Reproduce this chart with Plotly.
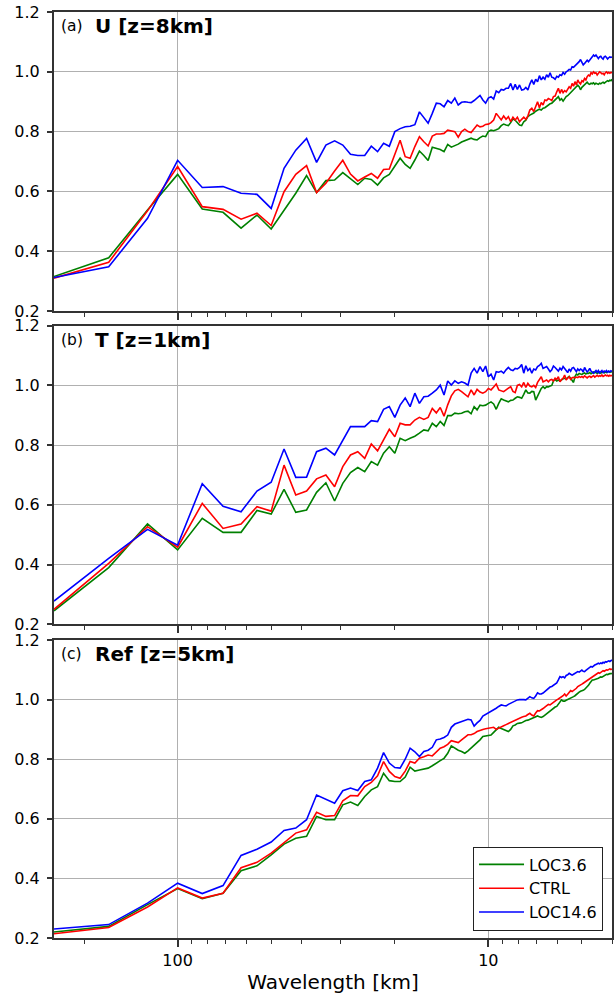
import math
import plotly.graph_objects as go

# Spectral grid: wavenumbers 2..125 over a 500 km domain
DOMAIN_KM = 500.0
wavenumber = list(range(2, 126))
wavelength_km = [DOMAIN_KM / n for n in wavenumber]

# ---- (a) U at z = 8 km ----
u_loc36 = [
    0.315, 0.378, 0.538, 0.657, 0.541, 0.53, 0.477, 0.521, 0.474, 0.538,
    0.594, 0.653, 0.596, 0.636, 0.638, 0.663, 0.643, 0.623, 0.644, 0.64,
    0.621, 0.645, 0.657,
    0.683, 0.711, 0.69, 0.677, 0.705, 0.735, 0.72, 0.703, 0.748, 0.745,
    0.74, 0.733, 0.757, 0.748, 0.752, 0.758, 0.765, 0.77, 0.775, 0.778,
    0.774, 0.772, 0.78, 0.785, 0.783, 0.80, 0.805, 0.803, 0.806, 0.81,
    0.82, 0.825, 0.822, 0.82, 0.83, 0.843, 0.838, 0.83, 0.822, 0.82,
    0.833, 0.838, 0.85, 0.855, 0.858, 0.862, 0.868, 0.872, 0.875, 0.872,
    0.878, 0.88, 0.885, 0.888, 0.893, 0.895, 0.90, 0.905, 0.912, 0.917,
    0.905, 0.91, 0.902, 0.91, 0.917, 0.92, 0.925, 0.93, 0.935, 0.94,
    0.945, 0.95, 0.955, 0.95, 0.94, 0.948, 0.952, 0.958, 0.962, 0.965,
    0.96, 0.958, 0.962, 0.96, 0.963, 0.958, 0.962, 0.96, 0.958, 0.962,
    0.96, 0.963, 0.965, 0.962, 0.966, 0.968, 0.97, 0.968, 0.972, 0.97,
    0.975,
]
u_ctrl = [
    0.31, 0.363, 0.535, 0.683, 0.549, 0.54, 0.507, 0.527, 0.486, 0.599,
    0.657, 0.686, 0.596, 0.627, 0.668, 0.704, 0.658, 0.635, 0.648, 0.66,
    0.644, 0.673, 0.675,
    0.727, 0.771, 0.716, 0.711, 0.75, 0.783, 0.766, 0.752, 0.785, 0.792,
    0.792, 0.794, 0.805, 0.803, 0.80, 0.781, 0.80, 0.808, 0.80, 0.797,
    0.808, 0.822, 0.816, 0.818, 0.824, 0.825, 0.83, 0.839, 0.861, 0.848,
    0.839, 0.852, 0.841, 0.85, 0.833, 0.848, 0.839, 0.848, 0.833, 0.841,
    0.848, 0.841, 0.852, 0.872, 0.878, 0.867, 0.886, 0.90, 0.88, 0.897,
    0.889, 0.906, 0.904, 0.911, 0.908, 0.904, 0.917, 0.919, 0.933, 0.945,
    0.928, 0.941, 0.93, 0.937, 0.933, 0.941, 0.95, 0.945, 0.961, 0.952,
    0.967, 0.956, 0.973, 0.964, 0.959, 0.97, 0.967, 0.978, 0.973, 0.984,
    0.989, 0.986, 0.997, 0.993, 1.0, 0.995, 0.997, 0.989, 0.993, 1.0,
    0.997, 0.993, 0.995, 0.99, 0.997, 1.0, 0.995, 0.998, 0.995, 0.998,
    0.997,
]
u_loc146 = [
    0.312, 0.348, 0.51, 0.704, 0.613, 0.616, 0.594, 0.59, 0.543, 0.677,
    0.738, 0.777, 0.697, 0.755, 0.769, 0.755, 0.724, 0.72, 0.72, 0.751,
    0.733, 0.761, 0.751,
    0.80, 0.81, 0.816, 0.818, 0.823, 0.866, 0.848, 0.828, 0.861, 0.895,
    0.893, 0.883, 0.904, 0.895, 0.912, 0.889, 0.898, 0.90, 0.898, 0.897,
    0.904, 0.912, 0.921, 0.906, 0.895, 0.912, 0.917, 0.909, 0.936, 0.93,
    0.941, 0.939, 0.945, 0.945, 0.961, 0.939, 0.958, 0.941, 0.956, 0.939,
    0.941, 0.948, 0.939, 0.959, 0.973, 0.958, 0.975, 0.967, 0.987, 0.973,
    0.982, 0.975, 0.99, 0.982, 0.997, 0.982, 0.98, 0.975, 0.985, 0.982,
    0.99, 0.988, 0.998, 0.992, 1.0, 1.003, 1.008, 1.006, 1.017, 1.015,
    1.019, 1.023, 1.028, 1.034, 1.041, 1.034, 1.023, 1.028, 1.034, 1.039,
    1.034, 1.041, 1.046, 1.05, 1.056, 1.052, 1.056, 1.05, 1.044, 1.05,
    1.052, 1.046, 1.042, 1.05, 1.052, 1.048, 1.043, 1.047, 1.05, 1.048,
    1.05,
]

# ---- (b) T at z = 1 km ----
t_loc36 = [
    0.245, 0.39, 0.536, 0.449, 0.555, 0.508, 0.508, 0.581, 0.569, 0.652,
    0.575, 0.583, 0.642, 0.674, 0.613, 0.672, 0.708, 0.725, 0.711, 0.745,
    0.733, 0.773, 0.795,
    0.773, 0.823, 0.815, 0.823, 0.83, 0.84, 0.851, 0.848, 0.873, 0.862,
    0.879, 0.866, 0.899, 0.899, 0.907, 0.905, 0.907, 0.912, 0.914, 0.905,
    0.929, 0.918, 0.934, 0.932, 0.934, 0.94, 0.945, 0.938, 0.92, 0.94,
    0.955, 0.951, 0.948, 0.945, 0.95, 0.951, 0.957, 0.962, 0.96, 0.957,
    0.97, 0.985, 0.975, 0.974, 0.98, 0.979, 0.951, 0.965, 0.979, 0.99,
    0.996, 0.99, 0.996, 0.995, 0.998, 1.0, 1.015, 1.02, 1.015, 1.018,
    1.015, 1.02, 1.022, 1.024, 1.022, 1.026, 1.03, 1.024, 1.015, 1.01,
    1.03, 1.038, 1.035, 1.04, 1.038, 1.037, 1.04, 1.042, 1.038, 1.041,
    1.04, 1.043, 1.039, 1.041, 1.045, 1.042, 1.044, 1.04, 1.042, 1.045,
    1.041, 1.043, 1.046, 1.042, 1.045, 1.043, 1.045, 1.047, 1.044, 1.046,
    1.045,
]
t_ctrl = [
    0.25, 0.404, 0.527, 0.458, 0.605, 0.521, 0.536, 0.594, 0.579, 0.733,
    0.633, 0.646, 0.687, 0.70, 0.661, 0.728, 0.767, 0.778, 0.756, 0.804,
    0.781, 0.82, 0.853,
    0.828, 0.873, 0.868, 0.868, 0.884, 0.893, 0.886, 0.893, 0.923, 0.908,
    0.926, 0.897, 0.935, 0.965, 0.982, 0.987, 0.979, 0.97, 0.962, 0.985,
    0.968, 0.987, 0.978, 0.974, 0.979, 0.99, 0.985, 0.995, 1.005, 0.985,
    0.982, 0.979, 0.985, 0.99, 0.996, 0.98, 0.976, 1.0, 1.003, 0.995,
    1.01, 0.993, 1.007, 0.998, 0.995, 1.0, 0.993, 1.01, 1.02, 1.029,
    1.012, 1.015, 1.018, 1.012, 1.018, 1.02, 1.015, 1.024, 1.02, 1.029,
    1.012, 1.02, 1.024, 1.035, 1.018, 1.024, 1.029, 1.02, 1.026, 1.027,
    1.025, 1.028, 1.026, 1.03, 1.027, 1.03, 1.026, 1.032, 1.028, 1.025,
    1.029, 1.031, 1.027, 1.03, 1.033, 1.028, 1.031, 1.034, 1.03, 1.033,
    1.031, 1.035, 1.03, 1.032, 1.035, 1.032, 1.034, 1.031, 1.034, 1.032,
    1.034,
]
t_loc146 = [
    0.278, 0.421, 0.518, 0.465, 0.671, 0.595, 0.577, 0.646, 0.676, 0.787,
    0.692, 0.693, 0.778, 0.79, 0.767, 0.817, 0.862, 0.862, 0.862, 0.882,
    0.879, 0.92, 0.929,
    0.893, 0.934, 0.958, 0.929, 0.974, 0.94, 0.962, 0.964, 0.974, 0.985,
    1.001, 0.968, 1.015, 1.001, 1.015, 1.007, 1.012, 1.008, 1.001, 1.041,
    1.057, 1.041, 1.063, 1.046, 1.065, 1.029, 1.038, 1.018, 1.046, 1.044,
    1.048, 1.041, 1.052, 1.06, 1.052, 1.05, 1.057, 1.055, 1.06, 1.07,
    1.041, 1.066, 1.05, 1.057, 1.041, 1.055, 1.052, 1.063, 1.067, 1.074,
    1.057, 1.06, 1.063, 1.055, 1.046, 1.052, 1.065, 1.06, 1.055, 1.048,
    1.058, 1.052, 1.063, 1.058, 1.05, 1.043, 1.055, 1.048, 1.058, 1.06,
    1.052, 1.046, 1.055, 1.05, 1.055, 1.052, 1.045, 1.06, 1.052, 1.045,
    1.05, 1.057, 1.048, 1.043, 1.041, 1.046, 1.05, 1.044, 1.05, 1.042,
    1.046, 1.05, 1.043, 1.048, 1.046, 1.05, 1.044, 1.048, 1.045, 1.049,
    1.047,
]

# ---- (c) Reflectivity at z = 5 km ----
ref_loc36 = [
    0.22, 0.239, 0.312, 0.366, 0.332, 0.35, 0.426, 0.442, 0.479, 0.515,
    0.535, 0.541, 0.608, 0.597, 0.597, 0.647, 0.656, 0.645, 0.675, 0.697,
    0.708, 0.753, 0.728,
    0.725, 0.725, 0.74, 0.773, 0.76, 0.764, 0.766, 0.77, 0.778, 0.788,
    0.795, 0.803, 0.82, 0.845, 0.836, 0.83, 0.826, 0.82, 0.828, 0.837,
    0.845, 0.856, 0.865, 0.876, 0.877, 0.878, 0.881, 0.89, 0.90, 0.907,
    0.903, 0.90, 0.895, 0.893, 0.90, 0.912, 0.915, 0.92, 0.921, 0.922,
    0.926, 0.93, 0.931, 0.934, 0.937, 0.94, 0.943, 0.945, 0.942, 0.94,
    0.943, 0.948, 0.952, 0.958, 0.962, 0.965, 0.97, 0.975, 0.977, 0.985,
    0.992, 0.999, 0.995, 0.995, 0.998, 1.0, 1.003, 1.005, 1.008, 1.01,
    1.013, 1.018, 1.022, 1.025, 1.028, 1.029, 1.031, 1.034, 1.038, 1.042,
    1.048, 1.055, 1.062, 1.066, 1.066, 1.067, 1.068, 1.07, 1.072, 1.074,
    1.076, 1.075, 1.078, 1.08, 1.083, 1.085, 1.084, 1.086, 1.087, 1.087,
    1.088,
]
ref_ctrl = [
    0.214, 0.235, 0.304, 0.368, 0.334, 0.35, 0.436, 0.454, 0.485, 0.521,
    0.552, 0.563, 0.622, 0.608, 0.611, 0.66, 0.678, 0.677, 0.708, 0.722,
    0.744, 0.792, 0.759,
    0.742, 0.736, 0.76, 0.792, 0.787, 0.803, 0.808, 0.814, 0.811, 0.825,
    0.837, 0.842, 0.85, 0.862, 0.86, 0.856, 0.865, 0.875, 0.882, 0.882,
    0.886, 0.893, 0.897, 0.90, 0.902, 0.904, 0.904, 0.907, 0.90, 0.905,
    0.909, 0.912, 0.916, 0.92, 0.922, 0.926, 0.93, 0.933, 0.937, 0.941,
    0.943, 0.945, 0.95, 0.954, 0.948, 0.945, 0.955, 0.963, 0.962, 0.965,
    0.97, 0.975, 0.98, 0.984, 0.982, 0.987, 0.99, 0.995, 0.999, 1.002,
    1.006, 1.008, 1.013, 1.019, 1.012, 1.018, 1.025, 1.03, 1.027, 1.03,
    1.033, 1.038, 1.044, 1.046, 1.05, 1.052, 1.055, 1.058, 1.062, 1.065,
    1.068, 1.07, 1.074, 1.077, 1.08, 1.083, 1.086, 1.089, 1.09, 1.088,
    1.092, 1.094, 1.097, 1.095, 1.098, 1.1, 1.099, 1.101, 1.103, 1.101,
    1.103,
]
ref_loc146 = [
    0.23, 0.245, 0.317, 0.384, 0.349, 0.376, 0.477, 0.498, 0.522, 0.561,
    0.569, 0.597, 0.68, 0.666, 0.652, 0.694, 0.703, 0.695, 0.725, 0.731,
    0.77, 0.822, 0.787,
    0.772, 0.77, 0.80, 0.837, 0.825, 0.809, 0.826, 0.83, 0.84, 0.865,
    0.868, 0.873, 0.881, 0.907, 0.918, 0.922, 0.926, 0.93, 0.934, 0.932,
    0.911, 0.922, 0.93, 0.945, 0.95, 0.956, 0.96, 0.965, 0.971, 0.977,
    0.982, 0.98, 0.979, 0.984, 0.988, 0.99, 0.995, 0.999, 1.0, 1.001,
    1.0, 0.999, 1.005, 1.01, 1.006, 1.004, 1.012, 1.023, 1.019, 1.019,
    1.022, 1.027, 1.032, 1.038, 1.042, 1.044, 1.048, 1.053, 1.056, 1.066,
    1.077, 1.074, 1.077, 1.073, 1.081, 1.083, 1.088, 1.085, 1.082, 1.085,
    1.088, 1.092, 1.094, 1.092, 1.096, 1.099, 1.095, 1.094, 1.098, 1.103,
    1.105, 1.108, 1.111, 1.109, 1.114, 1.116, 1.118, 1.12, 1.122, 1.12,
    1.123, 1.121, 1.125, 1.123, 1.127, 1.126, 1.128, 1.13, 1.128, 1.132,
    1.133,
]

experiments = ["LOC3.6", "CTRL", "LOC14.6"]
exp_colors = ["#008000", "#ff0000", "#0000ff"]

panel_tags = ["(a)", "(b)", "(c)"]
panel_titles = ["U [z=8km]", "T [z=1km]", "Ref [z=5km]"]
panel_series = [
    [u_loc36, u_ctrl, u_loc146],
    [t_loc36, t_ctrl, t_loc146],
    [ref_loc36, ref_ctrl, ref_loc146],
]

y_ticks = [0.2, 0.4, 0.6, 0.8, 1.0, 1.2]
x_major = [100, 10]
x_minor = [200, 90, 80, 70, 60, 50, 40, 30, 20, 9, 8, 7, 6, 5, 4]

for group in panel_series:
    for s in group:
        if len(s) != len(wavelength_km):
            raise ValueError("series length mismatch")

# ---- layout geometry (pixels) ----
W, H = 615, 994
M_L, M_R, M_T, M_B = 54, 1, 12, 56
plot_h = H - M_T - M_B
panel_px = [(12, 311), (325.7, 624.3), (640, 938)]  # top, bottom


def py2paper(py):
    return (H - M_B - py) / plot_h


def px2paper(px):
    return (px - M_L) / (W - M_L - M_R)


FONT = "DejaVu Sans"
AX = "#333333"
GRID = "#b0b0b0"

fig = go.Figure()
layout = dict(
    width=W,
    height=H,
    margin=dict(l=M_L, r=M_R, t=M_T, b=M_B),
    paper_bgcolor="white",
    plot_bgcolor="white",
    font=dict(family=FONT, size=16, color="black"),
    showlegend=True,
    legend=dict(
        x=px2paper(605),
        y=py2paper(930.5),
        xanchor="right",
        yanchor="bottom",
        bgcolor="white",
        bordercolor="#222222",
        borderwidth=1,
        itemwidth=45,
        font=dict(family=FONT, size=16, color="black"),
        traceorder="normal",
    ),
    annotations=[],
)

for i in range(3):
    suffix = "" if i == 0 else str(i + 1)
    xa, ya = "x" + suffix, "y" + suffix
    for j, name in enumerate(experiments):
        fig.add_trace(
            go.Scatter(
                x=wavelength_km,
                y=panel_series[i][j],
                mode="lines",
                name=name,
                legendgroup=name,
                showlegend=(i == 2),
                line=dict(color=exp_colors[j], width=1.6),
                xaxis=xa,
                yaxis=ya,
            )
        )

    top, bot = panel_px[i]
    layout["xaxis" + suffix] = dict(
        type="log",
        range=[math.log10(250), math.log10(4)],
        domain=[0, 1],
        anchor=ya,
        tickmode="array",
        tickvals=x_major,
        ticktext=[str(v) for v in x_major],
        showticklabels=(i == 2),
        ticks="outside",
        ticklen=7,
        tickwidth=1.5,
        tickcolor=AX,
        tickfont=dict(family=FONT, size=16, color="black"),
        showline=True,
        linecolor=AX,
        linewidth=2,
        mirror=True,
        showgrid=True,
        gridcolor=GRID,
        gridwidth=1.2,
        zeroline=False,
        minor=dict(
            tickmode="array",
            tickvals=x_minor,
            ticks="outside",
            ticklen=3.5,
            tickwidth=1.2,
            tickcolor=AX,
            showgrid=False,
        ),
    )
    if i == 2:
        layout["xaxis" + suffix]["title"] = dict(
            text="Wavelength [km]",
            font=dict(family=FONT, size=20, color="black"),
            standoff=6,
        )
    layout["yaxis" + suffix] = dict(
        range=[0.2, 1.2],
        domain=[py2paper(bot), py2paper(top)],
        anchor=xa,
        tickmode="array",
        tickvals=y_ticks,
        ticktext=["%.1f" % v for v in y_ticks],
        ticks="outside",
        ticklen=5,
        tickwidth=1.5,
        tickcolor=AX,
        ticklabelstandoff=4,
        tickfont=dict(family=FONT, size=16, color="black"),
        showline=True,
        linecolor=AX,
        linewidth=2,
        mirror=True,
        showgrid=True,
        gridcolor=GRID,
        gridwidth=1.2,
        zeroline=False,
    )

    y_lbl = py2paper(top + 14)
    layout["annotations"].append(
        dict(
            text=panel_tags[i],
            x=px2paper(59),
            y=y_lbl,
            xref="paper",
            yref="paper",
            xanchor="left",
            yanchor="middle",
            showarrow=False,
            font=dict(family=FONT, size=15.5, color="black"),
        )
    )
    layout["annotations"].append(
        dict(
            text="<b>%s</b>" % panel_titles[i],
            x=px2paper(93),
            y=y_lbl,
            xref="paper",
            yref="paper",
            xanchor="left",
            yanchor="middle",
            showarrow=False,
            font=dict(family=FONT, size=20, color="black"),
        )
    )

fig.update_layout(**layout)
fig.write_html("out.html")
